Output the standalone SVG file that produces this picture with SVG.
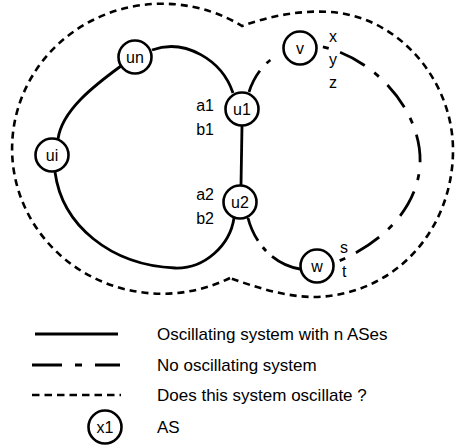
<svg xmlns="http://www.w3.org/2000/svg" width="455" height="447" viewBox="0 0 455 447">
<style>
  text { font-family: "Liberation Sans", Arial, Helvetica, sans-serif; fill: #000; }
  .nl { font-size: 16px; text-anchor: middle; }
  .lb { font-size: 16px; }
  .lg { font-size: 17px; }
  .node { fill: #fff; stroke: #000; stroke-width: 2.6; }
  .solid { fill: none; stroke: #000; stroke-width: 2.8; stroke-linecap: butt; }
  .dashdot { fill: none; stroke: #000; stroke-width: 2.8; stroke-dasharray: 28 12 6 12; }
  .dotted { fill: none; stroke: #000; stroke-width: 2.6; stroke-dasharray: 7 5; }
</style>
<rect width="455" height="447" fill="#fff"/>

<g id="boundary">
  <path class="dotted" d="M 230 278 A 150 145 0 1 1 242 26 C 270 16 300 10 330 12 C 398 16 453 80 453 150 C 453 230 395 295 315 297 C 285 297 255 287 230 278"/>
</g>

<g id="connectors">
  <path class="solid" d="M 152 50 C 185 38 222 60 233 93"/>
  <path class="solid" d="M 121 66 C 95 85 62 110 58 139"/>
  <path class="solid" d="M 55 172 C 62 225 110 265 175 268 C 205 269 230 245 234 218"/>
  <path class="solid" d="M 242 126 L 241 185"/>
  <path class="dashdot" style="stroke-dasharray: 24 10 5 30" d="M 249 92 C 254 76 265 60 284 52"/>
  <path class="dashdot" style="stroke-dashoffset: 35" d="M 318 46 C 372 55 423 110 420 165 C 417 210 380 245 334 263"/>
  <path class="dashdot" style="stroke-dasharray: 25 8 5 8 40" d="M 248 218 C 255 245 275 265 300 269"/>
</g>

<g id="node-un"><circle class="node" cx="135" cy="57" r="16.5"/><text class="nl" x="135" y="62.5">un</text></g>
<g id="node-ui"><circle class="node" cx="52" cy="155" r="16.5"/><text class="nl" x="52" y="160.5">ui</text></g>
<g id="node-u1"><circle class="node" cx="242" cy="109" r="16.5"/><text class="nl" x="242" y="114.5">u1</text></g>
<g id="node-u2"><circle class="node" cx="240" cy="202" r="16.5"/><text class="nl" x="240" y="207.5">u2</text></g>
<g id="node-v"><circle class="node" cx="300" cy="48" r="16.5"/><text class="nl" x="300" y="53.5">v</text></g>
<g id="node-w"><circle class="node" cx="317" cy="266" r="16.5"/><text class="nl" x="317" y="271.5">w</text></g>

<g id="labels">
  <text class="lb" x="214" y="111" text-anchor="end">a1</text>
  <text class="lb" x="214" y="135" text-anchor="end">b1</text>
  <text class="lb" x="214" y="200" text-anchor="end">a2</text>
  <text class="lb" x="214" y="224" text-anchor="end">b2</text>
  <text class="lb" x="329" y="42">x</text>
  <text class="lb" x="329" y="65">y</text>
  <text class="lb" x="329" y="88">z</text>
  <text class="lb" x="340" y="253">s</text>
  <text class="lb" x="342" y="277">t</text>
</g>

<g id="legend">
  <line class="solid" x1="35" y1="334" x2="118" y2="334"/>
  <line class="dashdot" style="stroke-dasharray: 30 13 7 13" x1="32" y1="365" x2="120" y2="365"/>
  <line class="dotted" style="stroke-dasharray: 7.5 5" x1="32" y1="395" x2="121" y2="395"/>
  <g id="legend-node"><circle class="node" cx="105" cy="427" r="16.5"/><text class="nl" x="105" y="432.5">x1</text></g>
  <text class="lg" x="157" y="340">Oscillating system with n ASes</text>
  <text class="lg" x="157" y="371">No oscillating system</text>
  <text class="lg" x="157" y="401">Does this system oscillate ?</text>
  <text class="lg" x="157" y="433">AS</text>
</g>
</svg>
